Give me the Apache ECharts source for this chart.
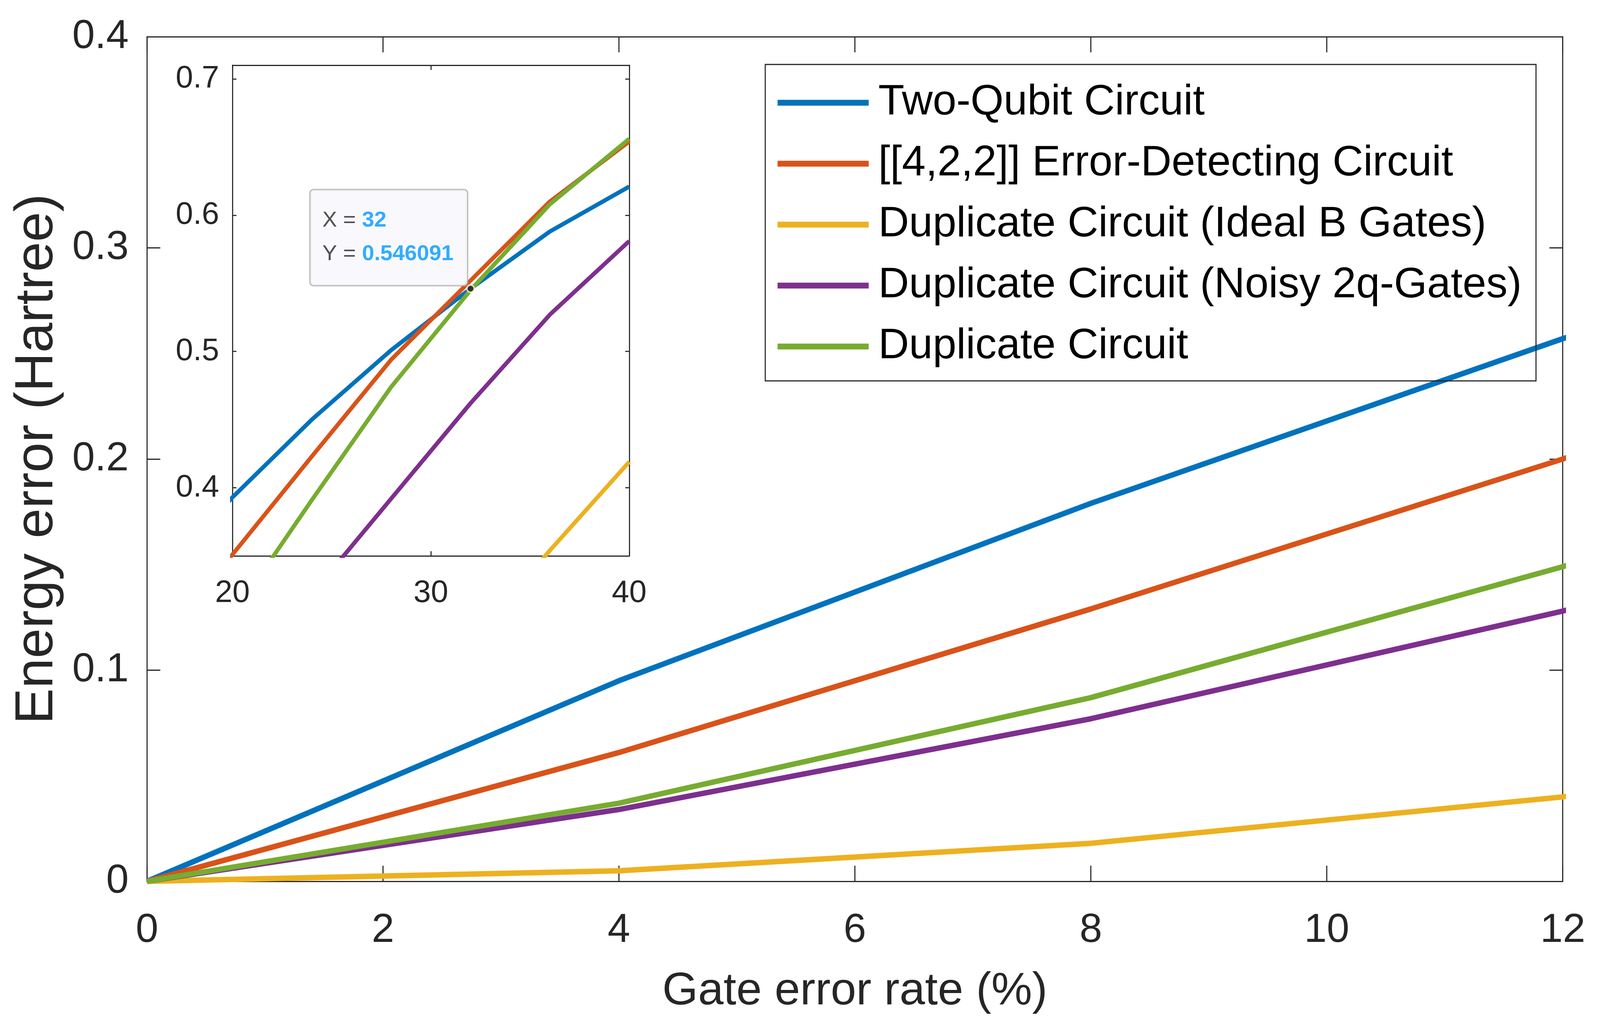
<!DOCTYPE html>
<html>
<head>
    <meta charset="utf-8">
    <title>Energy error vs gate error rate</title>
    <script src="https://cdn.jsdelivr.net/npm/echarts@6/dist/echarts.min.js"></script>
    <style>
        html, body { margin: 0; padding: 0; background: #ffffff; overflow: hidden; }
        #chart { width: 100vw; height: 100vh; }
    </style>
</head>
<body>
    <div id="chart"></div>
    <script type="text/javascript">
    // gate error rate (%) – same x values for the main plot and the zoomed inset
    var rates = [0, 4, 8, 12, 16, 20, 24, 28, 32, 36, 40];

    // energy error (Hartree)
    var twoQubit    = [0, 0.095, 0.179, 0.257, 0.327, 0.393, 0.450, 0.501, 0.546091, 0.588, 0.621];
    var errorDetect = [0, 0.061, 0.129, 0.200, 0.276, 0.351, 0.423, 0.494, 0.552, 0.610, 0.654];
    var dupIdealB   = [0, 0.005, 0.018, 0.040, 0.074, 0.116, 0.166, 0.224, 0.286, 0.354, 0.419];
    var dupNoisy2q  = [0, 0.034, 0.077, 0.128, 0.190, 0.255, 0.322, 0.392, 0.462, 0.527, 0.581];
    var duplicate   = [0, 0.037, 0.087, 0.149, 0.225, 0.306, 0.391, 0.474, 0.545, 0.608, 0.656];

    var names = [
        'Two-Qubit Circuit',
        '[[4,2,2]] Error-Detecting Circuit',
        'Duplicate Circuit (Ideal B Gates)',
        'Duplicate Circuit (Noisy 2q-Gates)',
        'Duplicate Circuit'
    ];
    var values = [twoQubit, errorDetect, dupIdealB, dupNoisy2q, duplicate];
    var colors = ['#0072BD', '#D95319', '#EDB120', '#7E2F8E', '#77AC30'];

    // axis ranges
    var mainX = [0, 12];
    var mainY = [0, 0.4];
    var insetX = [20, 40];
    var insetY = [0.35, 0.71];

    // data tip shown in the inset
    var tipX = 32;
    var tipY = 0.546091;

    var font = "'Liberation Sans', Helvetica, Arial, sans-serif";
    var ink = '#262626';

    var dom = document.getElementById('chart');
    var W = dom.clientWidth, H = dom.clientHeight;
    // layout was measured on a 4811 x 2634 canvas; stretch it to the real window
    var sx = W / 4811, sy = H / 2634, s = Math.min(sx, sy), sm = (sx + sy) / 2;

    var mainFont = 122 * s, insetFont = 94 * s, titleFont = 138 * s;

    function pairs(ys) {
        return rates.map(function (x, i) { return [x, ys[i]]; });
    }

    function valueAxis(grid, pos, range, interval, tickLen, fontSize, showLabel, margin) {
        var ax = {
            type: 'value',
            gridIndex: grid,
            position: pos,
            min: range[0],
            max: range[1],
            splitLine: { show: false },
            axisLine: { show: true, onZero: false, lineStyle: { color: ink, width: 3 * sm } },
            axisTick: { show: true, inside: true, length: tickLen, lineStyle: { color: ink, width: 3 * sm } },
            axisLabel: {
                show: showLabel,
                color: ink,
                fontSize: fontSize,
                fontFamily: font,
                margin: margin
            },
            z: grid === 1 ? 11 : 0
        };
        if (interval) ax.interval = interval;
        return ax;
    }

    var chart = echarts.init(dom);

    var xAxes = [
        valueAxis(0, 'bottom', mainX, 2, 40 * sy, mainFont, true, 126 * sy - mainFont / 2),
        valueAxis(0, 'top', mainX, 2, 40 * sy, mainFont, false, 0),
        valueAxis(1, 'bottom', insetX, 10, 12 * sy, insetFont, true, 96 * sy - insetFont / 2),
        valueAxis(1, 'top', insetX, 10, 12 * sy, insetFont, false, 0)
    ];
    var yAxes = [
        valueAxis(0, 'left', mainY, 0.1, 40 * sx, mainFont, true, 55 * sx),
        valueAxis(0, 'right', mainY, 0.1, 40 * sx, mainFont, false, 0),
        valueAxis(1, 'left', insetY, null, 12 * sx, insetFont, true, 40 * sx),
        valueAxis(1, 'right', insetY, null, 12 * sx, insetFont, false, 0)
    ];

    // titles
    xAxes[0].name = 'Gate error rate (%)';
    xAxes[0].nameLocation = 'middle';
    xAxes[0].nameGap = 283 * sy - titleFont / 2;
    xAxes[0].nameTextStyle = { color: ink, fontSize: titleFont, fontFamily: font };
    var yTitleFont = 138 * sy;
    yAxes[0].name = 'Energy error (Hartree)';
    yAxes[0].nameLocation = 'middle';
    yAxes[0].nameGap = 329 * sx - yTitleFont / 2;
    yAxes[0].nameTextStyle = { color: ink, fontSize: yTitleFont, fontFamily: font };

    // inset y: auto ticks every 0.1, hide the boundary labels
    yAxes[2].splitNumber = 4;
    yAxes[2].axisLabel.showMinLabel = false;
    yAxes[2].axisLabel.showMaxLabel = false;
    yAxes[2].axisLabel.formatter = function (v) {
        var r = Math.round(v * 10) / 10;
        return Math.abs(r - v) < 1e-6 ? r.toFixed(1) : '';
    };
    yAxes[3].splitNumber = 4;

    var series = [];
    names.forEach(function (name, i) {
        series.push({
            name: name,
            type: 'line',
            xAxisIndex: 0,
            yAxisIndex: 0,
            data: pairs(values[i]),
            symbol: 'none',
            showSymbol: false,
            clip: true,
            color: colors[i],
            lineStyle: { color: colors[i], width: 15 * sm },
            emphasis: { disabled: true },
            z: 2
        });
    });
    names.forEach(function (name, i) {
        series.push({
            name: name,
            type: 'line',
            xAxisIndex: 2,
            yAxisIndex: 2,
            data: pairs(values[i]),
            symbol: 'none',
            showSymbol: false,
            clip: true,
            color: colors[i],
            lineStyle: { color: colors[i], width: 11.5 * sm },
            emphasis: { disabled: true },
            z: 12
        });
    });

    // data tip
    series.push({
        name: 'datatip',
        type: 'scatter',
        xAxisIndex: 2,
        yAxisIndex: 2,
        data: [[tipX, tipY]],
        symbol: 'circle',
        symbolSize: 20 * sm,
        itemStyle: { color: '#1a1a1a', borderColor: '#fffbe6', borderWidth: 4 * sm },
        emphasis: { disabled: true },
        z: 20,
        label: {
            show: true,
            position: [3 * s, 3 * s],
            align: 'right',
            verticalAlign: 'bottom',
            formatter: function (p) {
                return '{k|X = }{v|' + p.value[0] + '}\n{k|Y = }{v|' + p.value[1] + '}';
            },
            backgroundColor: '#f8f8fc',
            borderColor: '#a6a6a6',
            borderWidth: 3 * sm,
            borderRadius: 9 * sm,
            padding: [35 * sy, 41 * sx, 37 * sy, 36 * sx],
            lineHeight: 86 * sy,
            rich: {
                k: { color: ink, fontSize: 66 * s, fontFamily: font, lineHeight: 86 * sy, align: 'left' },
                v: { color: '#0099ff', fontSize: 66 * s, fontWeight: 'bold', fontFamily: font, lineHeight: 86 * sy, align: 'left' }
            }
        }
    });

    var option = {
        animation: false,
        backgroundColor: '#ffffff',
        textStyle: { fontFamily: font },
        grid: [
            { left: 442 * sx, right: 112 * sx, top: 94 * sy, bottom: 378 * sy, containLabel: false, outerBoundsMode: 'none', show: false },
            { left: 699 * sx, right: 2919 * sx, top: 167 * sy, bottom: 1211 * sy, containLabel: false, outerBoundsMode: 'none',
              show: true, backgroundColor: '#ffffff', borderWidth: 0, z: 10 }
        ],
        legend: {
            data: names,
            orient: 'vertical',
            left: 2301 * sx,
            top: 165 * sy,
            icon: 'rect',
            itemWidth: 274 * sx,
            itemHeight: 16 * sm,
            itemGap: 26 * sy,
            padding: [33 * sy, 43 * sx, 23 * sy, 37 * sx],
            borderColor: ink,
            borderWidth: 3 * sm,
            borderRadius: 0,
            backgroundColor: 'transparent',
            selectedMode: false,
            textStyle: {
                color: '#000000',
                fontSize: 128 * s,
                fontFamily: font,
                lineHeight: 130 * sy,
                padding: [0, 0, 0, 23 * sx]
            }
        },
        xAxis: xAxes,
        yAxis: yAxes,
        series: series
    };

    chart.setOption(option);
    </script>
</body>
</html>
